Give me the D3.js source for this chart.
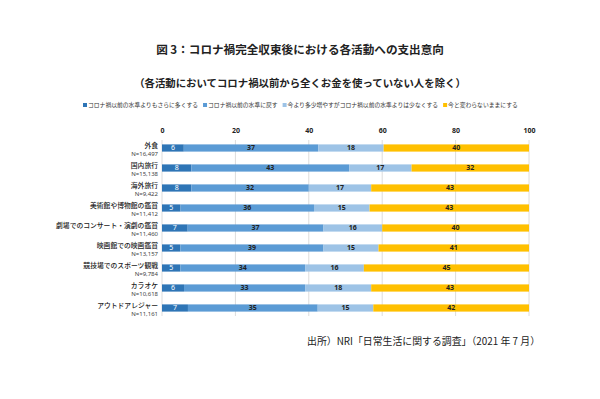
<!DOCTYPE html>
<html>
<head>
<meta charset="utf-8">
<script src="https://cdn.jsdelivr.net/npm/d3@7"></script>
<style>
  body { margin: 0; background: #fff; }
  text { font-family: "Noto Sans CJK JP", "Noto Sans", sans-serif; }
</style>
</head>
<body>
<div class="chart"></div>
<script>
var categories = ["外食", "国内旅行", "海外旅行", "美術館や博物館の鑑賞", "劇場でのコンサート・演劇の鑑賞",
                  "映画館での映画鑑賞", "競技場でのスポーツ観戦", "カラオケ", "アウトドアレジャー"];
var sampleSizes = ["N=16,497", "N=15,138", "N=9,422", "N=11,412", "N=11,460",
                   "N=13,157", "N=9,784", "N=10,618", "N=11,161"];
var seriesNames = ["コロナ禍以前の水準よりもさらに多くする", "コロナ禍以前の水準に戻す",
                   "今より多少増やすがコロナ禍以前の水準よりは少なくする", "今と変わらないままにする"];
var moreThanBefore = [6, 8, 8, 5, 7, 5, 5, 6, 7];
var backToBefore   = [37, 43, 32, 36, 37, 39, 34, 33, 35];
var lessThanBefore = [18, 17, 17, 15, 16, 15, 16, 18, 15];
var noChange       = [40, 32, 43, 43, 40, 41, 45, 43, 42];
var ticks = [0, 20, 40, 60, 80, 100];

var W = 600, H = 399;
var margin = {top: 140, left: 162, right: 71, bottom: 83};
var width = W - margin.left - margin.right,
    height = H - margin.top - margin.bottom;

var keys = ["a", "b", "c", "d"];
var rows = categories.map(function(c, i){
    return {cat: c, n: sampleSizes[i], a: moreThanBefore[i], b: backToBefore[i], c: lessThanBefore[i], d: noChange[i]};
});
var stacked = d3.stack().keys(keys).offset(d3.stackOffsetExpand)(rows);

var x = d3.scaleLinear().domain([0, 1]).range([0, width]);
var y = d3.scaleBand().domain(categories).range([0, height]).paddingInner(0.64).paddingOuter(0.22);
var color = d3.scaleOrdinal().domain(keys).range(["#2e75b6", "#5b9bd5", "#9dc3e6", "#ffc000"]);

var svg = d3.select(".chart").append("svg").attr("width", W).attr("height", H);

svg.append("text").attr("x", 300).attr("y", 54).attr("text-anchor", "middle")
   .attr("font-size", 11.6).attr("font-weight", "bold").attr("fill", "#222")
   .text("図 3：コロナ禍完全収束後における各活動への支出意向");
svg.append("text").attr("x", 300).attr("y", 87).attr("text-anchor", "middle")
   .attr("font-size", 10.4).attr("font-weight", "bold").attr("fill", "#222")
   .text("（各活動においてコロナ禍以前から全くお金を使っていない人を除く）");

// legend
var legend = svg.append("g").attr("transform", "translate(83,107)");
var lx = 0;
seriesNames.forEach(function(name, i){
    legend.append("rect").attr("x", lx).attr("y", -4).attr("width", 4).attr("height", 4).attr("fill", color(keys[i]));
    var t = legend.append("text").attr("x", lx + 5).attr("y", 0).attr("font-size", 5.8).attr("fill", "#333").text(name);
    lx += 5 + t.node().getComputedTextLength() + 5;
});

var g = svg.append("g").attr("transform", "translate(" + margin.left + "," + margin.top + ")");

g.selectAll(".grid").data(ticks).enter().append("line")
  .attr("x1", function(d){ return x(d / 100); }).attr("x2", function(d){ return x(d / 100); })
  .attr("y1", 0).attr("y2", height).attr("stroke", "#dcdcdc").attr("stroke-width", 1);

var xAxis = d3.axisTop(x).tickValues(ticks.map(function(d){ return d / 100; }))
  .tickFormat(function(d){ return Math.round(d * 100); }).tickSize(0).tickPadding(0);
g.append("g").attr("transform", "translate(0,-7)").call(xAxis)
  .call(function(s){ s.select(".domain").remove(); })
  .selectAll("text").attr("font-size", 7).attr("font-weight", "bold").attr("fill", "#222")
  .style("font-family", "'Noto Sans', sans-serif");

var layer = g.selectAll(".layer").data(stacked).enter().append("g")
  .attr("fill", function(d){ return color(d.key); });
layer.selectAll("rect").data(function(d){ return d; }).enter().append("rect")
  .attr("x", function(d){ return x(d[0]); })
  .attr("width", function(d){ return x(d[1]) - x(d[0]); })
  .attr("y", function(d){ return y(d.data.cat); })
  .attr("height", y.bandwidth());

stacked.forEach(function(s){
    g.selectAll(".lbl-" + s.key).data(s).enter().append("text")
      .attr("x", function(d){ return (x(d[0]) + x(d[1])) / 2; })
      .attr("y", function(d){ return y(d.data.cat) + y.bandwidth() / 2 + 2.4; })
      .attr("text-anchor", "middle").attr("font-size", 7)
      .attr("font-weight", s.key === "a" ? "normal" : "bold")
      .attr("fill", s.key === "a" ? "#fff" : "#222")
      .style("font-family", "'Noto Sans', sans-serif")
      .text(function(d){ return d.data[s.key]; });
});

var yl = g.selectAll(".cat").data(rows).enter().append("g")
  .attr("transform", function(d){ return "translate(-4," + (y(d.cat) + y.bandwidth() / 2) + ")"; });
yl.append("text").attr("x", 0).attr("y", 0).attr("text-anchor", "end").attr("font-size", 6.8)
  .attr("font-weight", "500").attr("fill", "#222").text(function(d){ return d.cat; });
yl.append("text").attr("x", 0).attr("y", 7.5).attr("text-anchor", "end").attr("font-size", 6)
  .attr("fill", "#444").style("font-family", "'Noto Sans', sans-serif").text(function(d){ return d.n; });

svg.append("text").attr("x", 307).attr("y", 345).attr("font-size", 9.9).attr("fill", "#222")
   .text("出所）NRI「日常生活に関する調査」（2021 年 7 月）");
</script>
</body>
</html>
